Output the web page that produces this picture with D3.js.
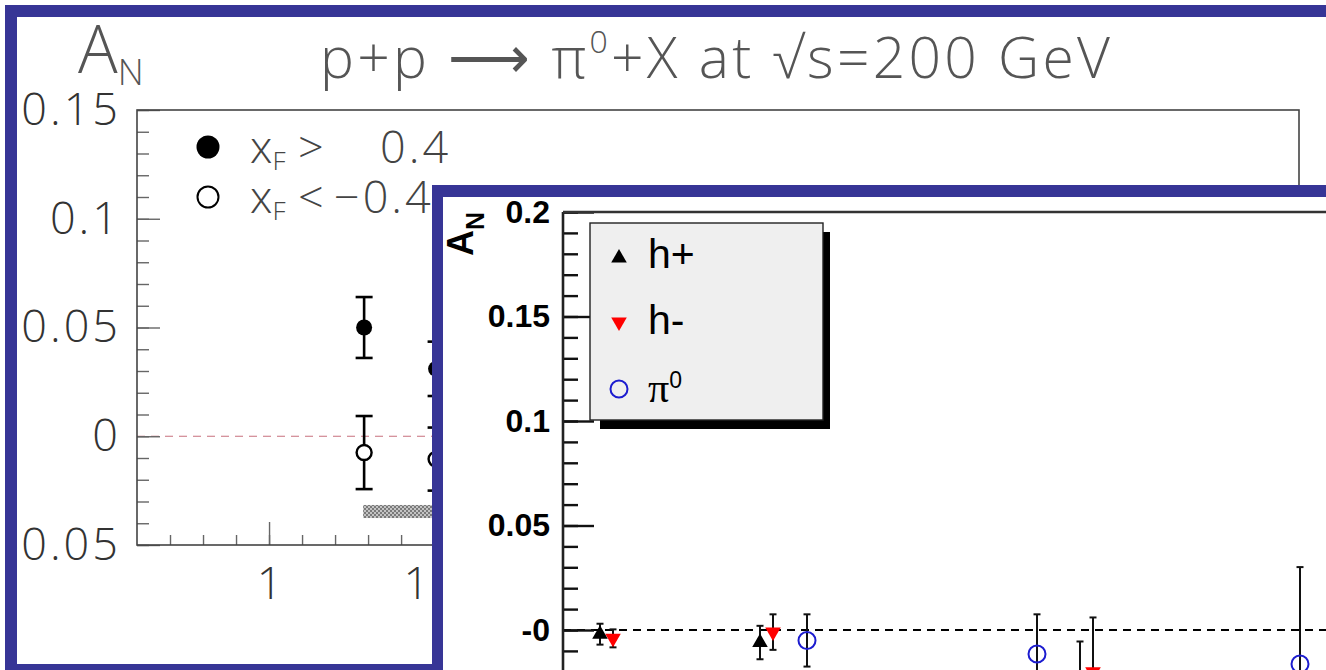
<!DOCTYPE html>
<html><head><meta charset="utf-8">
<script src="https://cdn.jsdelivr.net/npm/d3@7"></script>
<style>body{margin:0;background:#fff;overflow:hidden}</style>
</head><body>
<svg id="fig" width="1326" height="670"></svg>
<script>
// ---- left panel: p+p -> pi0 + X, forward / backward xF ----
const xfPosPt  = [1.288, 1.506];
const xfPosAn  = [0.050, 0.031];
const xfPosErr = [0.014, 0.0125];
const xfNegPt  = [1.288, 1.506];
const xfNegAn  = [-0.0075, -0.0105];
const xfNegErr = [0.0168, 0.0145];
const sysBandPt = [1.285, 3.0];
const sysBandAn = [-0.0376, -0.0316];
const leftYTicks  = [-0.05, 0, 0.05, 0.1, 0.15];
const leftYLabels = ["-0.05", "0", "0.05", "0.1", "0.15"];
const leftXTicks  = [1, 1.5, 2, 2.5, 3, 3.5, 4];
const leftXLabels = ["1", "1.5", "2", "2.5", "3", "3.5", "4"];
const leftLegend  = ["> 0.4", "<\u22120.4"];

// ---- inset: midrapidity h+, h-, pi0 ----
const hPlusPt  = [0.685, 1.485, 3.085];
const hPlusAn  = [-0.002, -0.006, -0.029];
const hPlusErr = [0.005, 0.008, 0.0235];
const hMinusPt  = [0.75, 1.55, 3.15];
const hMinusAn  = [-0.004, -0.001, -0.020];
const hMinusErr = [0.0043, 0.0085, 0.026];
const pi0Pt  = [1.72, 2.87, 4.185];
const pi0An  = [-0.005, -0.0115, -0.0163];
const pi0Err = [0.0125, 0.019, 0.0464];
const insetYTicks  = [0, 0.05, 0.1, 0.15, 0.2];
const insetYLabels = ["-0", "0.05", "0.1", "0.15", "0.2"];
const insetLegend  = ["h+", "h-", "\u03c0"];

const BLUE = "#373596";
const thin = "'Open Sans', 'DejaVu Sans', sans-serif";
const bold = "'Liberation Sans', Arial, sans-serif";
const svg = d3.select("#fig");

svg.append("rect").attr("width", 1326).attr("height", 670).attr("fill", "#fff");

const defs = svg.append("defs");
const pat = defs.append("pattern").attr("id", "chk").attr("width", 4).attr("height", 4)
  .attr("patternUnits", "userSpaceOnUse");
pat.append("rect").attr("width", 4).attr("height", 4).attr("fill", "#c4c4c4");
pat.append("rect").attr("width", 2).attr("height", 2).attr("fill", "#7a7a7a");
pat.append("rect").attr("x", 2).attr("y", 2).attr("width", 2).attr("height", 2).attr("fill", "#7a7a7a");
defs.append("clipPath").attr("id", "slide")
  .append("rect").attr("x", 17).attr("y", 17).attr("width", 1320).attr("height", 647);

// outer slide frame
svg.append("rect").attr("x", 5).attr("y", 5).attr("width", 1340).attr("height", 690).attr("fill", BLUE);
svg.append("rect").attr("x", 17).attr("y", 17).attr("width", 1330).attr("height", 647).attr("fill", "#fff");

// ================= left panel =================
const L = svg.append("g").attr("clip-path", "url(#slide)");
const lx = d3.scaleLinear().domain([0.6, 4.12]).range([137, 1299]);
const ly = d3.scaleLinear().domain([-0.05, 0.15]).range([545, 110]);

// zero line
L.append("line").attr("x1", lx.range()[0]).attr("x2", lx.range()[1])
  .attr("y1", ly(0)).attr("y2", ly(0))
  .attr("stroke", "#c8707e").attr("stroke-width", 1.2).attr("stroke-dasharray", "8,6");

// axes
const lyMinor = d3.range(-50, 151, 10).map(v => v / 1000);
const lxMinor = d3.range(7, 42, 1).map(v => v / 10);
const lyAxMinor = L.append("g").attr("transform", `translate(${lx.range()[0]},0)`)
  .call(d3.axisLeft(ly).tickValues(lyMinor).tickSize(-12).tickSizeOuter(0).tickFormat(""));
const lyAx = L.append("g").attr("transform", `translate(${lx.range()[0]},0)`)
  .call(d3.axisLeft(ly).tickValues(leftYTicks).tickSize(-23).tickSizeOuter(0).tickPadding(16)
    .tickFormat((d, i) => leftYLabels[i]));
const lxAxMinor = L.append("g").attr("transform", `translate(0,${ly.range()[0]})`)
  .call(d3.axisBottom(lx).tickValues(lxMinor).tickSize(-10).tickSizeOuter(0).tickFormat(""));
const lxAx = L.append("g").attr("transform", `translate(0,${ly.range()[0]})`)
  .call(d3.axisBottom(lx).tickValues(leftXTicks).tickSize(-23).tickSizeOuter(0).tickPadding(22)
    .tickFormat((d, i) => leftXLabels[i]));
[lyAxMinor, lyAx, lxAxMinor, lxAx].forEach(a => {
  a.select(".domain").remove();
  a.selectAll(".tick line").attr("stroke", "#666").attr("stroke-width", 1.4);
  a.selectAll("text").attr("font-family", thin).attr("font-weight", 300)
    .attr("font-size", 45).attr("fill", "#333").attr("letter-spacing", 3);
});
lxAx.selectAll("text").attr("dy", "0.71em").attr("letter-spacing", 0);

// frame
L.append("rect").attr("x", lx.range()[0]).attr("y", ly.range()[1])
  .attr("width", lx.range()[1] - lx.range()[0]).attr("height", ly.range()[0] - ly.range()[1])
  .attr("fill", "none").attr("stroke", "#444").attr("stroke-width", 1.6);

// systematic band
L.append("rect").attr("x", lx(sysBandPt[0])).attr("y", ly(sysBandAn[1]))
  .attr("width", lx(sysBandPt[1]) - lx(sysBandPt[0]))
  .attr("height", ly(sysBandAn[0]) - ly(sysBandAn[1]))
  .attr("fill", "url(#chk)");

function errorBars(g, xs, ys, es, sx, sy, cap, color, w) {
  const d = xs.map((x, i) => ({ x: sx(x), lo: sy(ys[i] - es[i]), hi: sy(ys[i] + es[i]) }));
  const eg = g.append("g").attr("stroke", color).attr("stroke-width", w);
  eg.selectAll(".v").data(d).join("line")
    .attr("x1", p => p.x).attr("x2", p => p.x).attr("y1", p => p.lo).attr("y2", p => p.hi);
  eg.selectAll(".c1").data(d).join("line")
    .attr("x1", p => p.x - cap).attr("x2", p => p.x + cap).attr("y1", p => p.lo).attr("y2", p => p.lo);
  eg.selectAll(".c2").data(d).join("line")
    .attr("x1", p => p.x - cap).attr("x2", p => p.x + cap).attr("y1", p => p.hi).attr("y2", p => p.hi);
}

errorBars(L, xfPosPt, xfPosAn, xfPosErr, lx, ly, 8.5, "#000", 2.6);
errorBars(L, xfNegPt, xfNegAn, xfNegErr, lx, ly, 8.5, "#000", 2.6);
L.selectAll(".fpos").data(xfPosPt).join("circle")
  .attr("cx", d => lx(d)).attr("cy", (d, i) => ly(xfPosAn[i])).attr("r", 8).attr("fill", "#000");
L.selectAll(".fneg").data(xfNegPt).join("circle")
  .attr("cx", d => lx(d)).attr("cy", (d, i) => ly(xfNegAn[i])).attr("r", 7.5)
  .attr("fill", "#fff").attr("stroke", "#000").attr("stroke-width", 2.4);

// legend
L.append("circle").attr("cx", 208).attr("cy", 147).attr("r", 11.5).attr("fill", "#000");
L.append("circle").attr("cx", 208).attr("cy", 197).attr("r", 10.5)
  .attr("fill", "none").attr("stroke", "#000").attr("stroke-width", 2);
[163, 213].forEach((yy, i) => {
  const t = L.append("text").attr("x", 250).attr("y", yy).attr("font-family", thin)
    .attr("font-weight", 300).attr("font-size", 45).attr("fill", "#444");
  t.append("tspan").text("x");
  t.append("tspan").attr("font-size", 26).attr("dy", 7).text("F");
  t.append("tspan").attr("x", 298).attr("dy", -7).text(leftLegend[i].slice(0, 1));
  t.append("tspan").attr("x", i === 0 ? 380 : 334).attr("letter-spacing", 3)
    .text(leftLegend[i].slice(1).trim());
});

// titles
const an = L.append("text").attr("x", 78).attr("y", 73).attr("font-family", thin)
  .attr("font-weight", 300).attr("font-size", 66).attr("fill", "#555");
an.append("tspan").text("A");
an.append("tspan").attr("font-size", 36).attr("dy", 12).text("N");

const ti = L.append("text").attr("x", 320).attr("y", 78).attr("font-family", thin)
  .attr("font-weight", 300).attr("font-size", 57).attr("fill", "#555")
  .attr("textLength", 790).attr("lengthAdjust", "spacing");
ti.append("tspan").text("p+p ");
ti.append("tspan").text("\u27f6 ");
ti.append("tspan").text("\u03c0");
ti.append("tspan").attr("font-size", 32).attr("dy", -25).text("0");
ti.append("tspan").attr("dy", 25).text("+X at \u221as=200 GeV");

// ================= inset panel =================
svg.append("rect").attr("x", 432).attr("y", 185).attr("width", 900).attr("height", 500).attr("fill", BLUE);
svg.append("rect").attr("x", 443).attr("y", 197).attr("width", 900).attr("height", 500).attr("fill", "#fff");

const I = svg.append("g");
const ix = d3.scaleLinear().domain([0.5, 5.5]).range([563, 1563]);
const iy = d3.scaleLinear().domain([-0.05, 0.2]).range([734.5, 212]);

I.append("line").attr("x1", ix.range()[0]).attr("x2", 1330)
  .attr("y1", iy(0)).attr("y2", iy(0))
  .attr("stroke", "#000").attr("stroke-width", 2).attr("stroke-dasharray", "8,6");

const iyMinor = d3.range(-50, 201, 10).map(v => v / 1000);
const iyAxMinor = I.append("g").attr("transform", `translate(${ix.range()[0]},0)`)
  .call(d3.axisLeft(iy).tickValues(iyMinor).tickSize(-15).tickSizeOuter(0).tickFormat(""));
const iyAx = I.append("g").attr("transform", `translate(${ix.range()[0]},0)`)
  .call(d3.axisLeft(iy).tickValues(insetYTicks).tickSize(-31).tickSizeOuter(0).tickPadding(13)
    .tickFormat((d, i) => insetYLabels[i]));
[iyAxMinor, iyAx].forEach(a => {
  a.select(".domain").remove();
  a.selectAll(".tick line").attr("stroke", "#111").attr("stroke-width", 2.4);
  a.selectAll("text").attr("font-family", bold).attr("font-weight", 700)
    .attr("font-size", 32).attr("fill", "#000");
});

// frame lines
I.append("line").attr("x1", ix.range()[0]).attr("x2", ix.range()[0])
  .attr("y1", iy.range()[1]).attr("y2", iy.range()[0]).attr("stroke", "#222").attr("stroke-width", 2.6);
I.append("line").attr("x1", ix.range()[0]).attr("x2", 1330)
  .attr("y1", iy.range()[1]).attr("y2", iy.range()[1]).attr("stroke", "#333").attr("stroke-width", 2.6);

// y title
const iyt = I.append("text").attr("transform", "translate(473,212) rotate(-90)")
  .attr("text-anchor", "end").attr("font-family", bold).attr("font-weight", 700).attr("fill", "#000");
iyt.append("tspan").attr("font-size", 36).text("A");
iyt.append("tspan").attr("font-size", 25).attr("dy", 11).text("N");

// error bars
errorBars(I, hPlusPt, hPlusAn, hPlusErr, ix, iy, 3.5, "#111", 2);
errorBars(I, hMinusPt, hMinusAn, hMinusErr, ix, iy, 3.5, "#111", 2);
errorBars(I, pi0Pt, pi0An, pi0Err, ix, iy, 3.5, "#111", 2);

const tri = d3.symbol().type(d3.symbolTriangle).size(105);
I.selectAll(".hp").data(hPlusPt).join("path")
  .attr("d", tri).attr("transform", (d, i) => `translate(${ix(d)},${iy(hPlusAn[i])})`).attr("fill", "#000");
I.selectAll(".hm").data(hMinusPt).join("path")
  .attr("d", tri).attr("transform", (d, i) => `translate(${ix(d)},${iy(hMinusAn[i])}) rotate(180)`).attr("fill", "#f00");
I.selectAll(".pz").data(pi0Pt).join("circle")
  .attr("cx", d => ix(d)).attr("cy", (d, i) => iy(pi0An[i])).attr("r", 8.5)
  .attr("fill", "none").attr("stroke", "#1c1ccf").attr("stroke-width", 2);

// legend box
I.append("rect").attr("x", 600).attr("y", 232).attr("width", 230).attr("height", 197).attr("fill", "#000");
I.append("rect").attr("x", 590).attr("y", 223).attr("width", 233).attr("height", 197)
  .attr("fill", "#efefef").attr("stroke", "#222").attr("stroke-width", 1.4);
I.append("path").attr("d", tri).attr("transform", "translate(619,258)").attr("fill", "#000");
I.append("path").attr("d", tri).attr("transform", "translate(619,322) rotate(180)").attr("fill", "#f00");
I.append("circle").attr("cx", 619).attr("cy", 389).attr("r", 8.5)
  .attr("fill", "none").attr("stroke", "#1c1ccf").attr("stroke-width", 2);
[268, 334].forEach((yy, i) => {
  I.append("text").attr("x", 648).attr("y", yy).attr("font-family", bold)
    .attr("font-size", 41).attr("fill", "#000").text(insetLegend[i]);
});
const pl = I.append("text").attr("x", 648).attr("y", 402).attr("fill", "#000");
pl.append("tspan").attr("font-family", "'Liberation Serif', serif").attr("font-size", 42).text(insetLegend[2]);
pl.append("tspan").attr("font-family", bold).attr("font-size", 23).attr("dy", -14).text("0");
</script>
</body></html>
